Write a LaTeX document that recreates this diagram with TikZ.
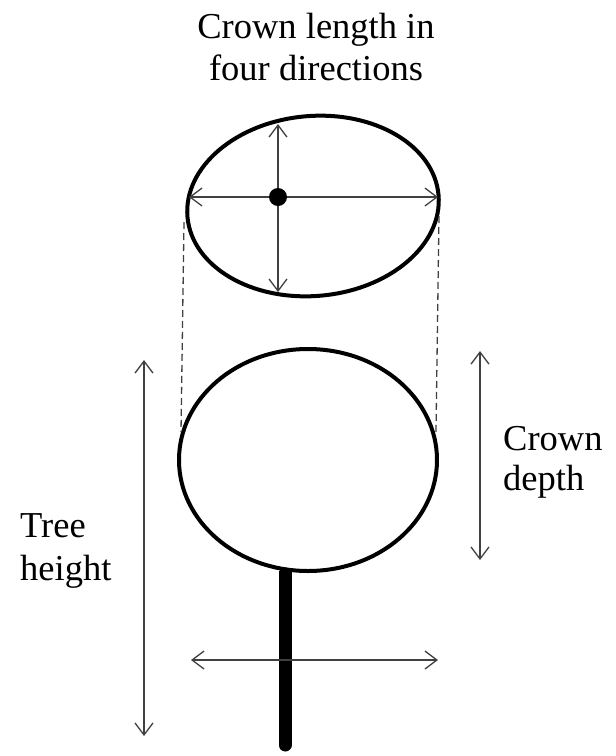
\documentclass[tikz,border=0pt]{standalone}
\usepackage{fontspec}
\setmainfont{Liberation Serif}
\usetikzlibrary{arrows.meta}
\begin{document}
\begin{tikzpicture}[x=1pt,y=-1pt,
  crown/.style={line width=4pt,draw=black},
  dimarrow/.style={line width=1.3pt,draw=black!75,{Straight Barb[length=12pt,width=18pt,line width=1.3pt]}-{Straight Barb[length=12pt,width=18pt,line width=1.3pt]}},
  proj/.style={line width=1.3pt,draw=black!75,dash pattern=on 7pt off 4pt},
  lbl/.style={font=\fontsize{36.5}{42}\selectfont,inner sep=0pt,align=left}]
\useasboundingbox (0,0) rectangle (616,756);
% top ellipse (plan view)
\draw[crown,rotate around={5:(313,206)}] (313,206) ellipse [x radius=126pt, y radius=90pt];
\coordinate (tl) at (189,197);
\coordinate (tr) at (438,197);
\coordinate (tt) at (278,124);
\coordinate (tb) at (278,292);
\draw[dimarrow] (tl) -- (tr);
\draw[dimarrow] (tt) -- (tb);
\fill (278,197) circle (9pt);
% bottom crown (side view)
\draw[crown] (308,460) ellipse [x radius=129pt, y radius=111pt];
\coordinate (pl1) at (184,222);
\coordinate (pl2) at (181,432);
\coordinate (pr1) at (439,216);
\coordinate (pr2) at (436,432);
\draw[proj] (pl1) -- (pl2);
\draw[proj] (pr1) -- (pr2);
% trunk
\draw[line width=13pt,line cap=round] (285,574) -- (285,745);
\fill (278.5,571) rectangle (291.5,580);
% stem width arrow
\coordinate (sl) at (191,660);
\coordinate (sr) at (438,660);
\draw[dimarrow] (sl) -- (sr);
% tree height
\coordinate (ht) at (144,360);
\coordinate (hb) at (144,736);
\draw[dimarrow] (ht) -- (hb);
% crown depth
\coordinate (dt) at (480,351);
\coordinate (db) at (480,560);
\draw[dimarrow] (dt) -- (db);
% labels
\node[lbl,align=center,anchor=base] (t1) at (316,38) {Crown length in};
\node[lbl,align=center,anchor=base] (t2) at (316,80) {four directions};
\node[lbl,anchor=base west] (h1) at (20,537) {Tree};
\node[lbl,anchor=base west] (h2) at (20,580) {height};
\node[lbl,anchor=base west] (d1) at (503,450) {Crown};
\node[lbl,anchor=base west] (d2) at (503,490) {depth};
\end{tikzpicture}
\end{document}
